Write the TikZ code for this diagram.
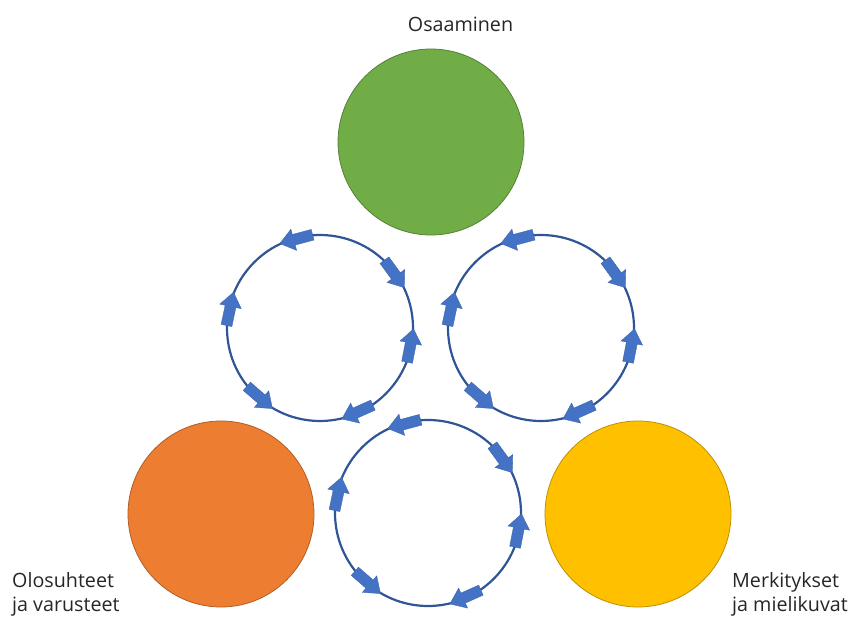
\documentclass[tikz,border=0pt]{standalone}
\usepackage{fontspec}
\setmainfont{Open Sans}
\usetikzlibrary{calc}
\definecolor{ringblue}{HTML}{2F5597}
\definecolor{arrowblue}{HTML}{4472C4}
\definecolor{greenfill}{HTML}{70AD47}
\definecolor{greenline}{HTML}{507E32}
\definecolor{orangefill}{HTML}{ED7D31}
\definecolor{orangeline}{HTML}{AE5A21}
\definecolor{yellowfill}{HTML}{FFC000}
\definecolor{yellowline}{HTML}{BC8C00}
\tikzset{
  bigdot/.style={circle, minimum size=186pt, inner sep=0pt, line width=0.75pt},
  ring/.style={circle, minimum size=186pt, inner sep=0pt, draw=ringblue, line width=2.2pt},
  lbl/.style={inner sep=0pt, font=\fontsize{19.7}{24}\selectfont, text=black!85},
  blockarrow/.pic={\fill[arrowblue, draw=arrowblue!85!black, line width=0.3pt]
    (-17,-5.5) -- (2.5,-5.5) -- (2.5,-11) -- (17,0) -- (2.5,11) -- (2.5,5.5) -- (-17,5.5) -- cycle;}
}
\begin{document}
\begin{tikzpicture}[x=1pt,y=1pt]
\useasboundingbox (0,0) rectangle (854,616);
% big circles
\node[bigdot, fill=greenfill, draw=greenline] (osa) at (431,474) {};
\node[bigdot, fill=orangefill, draw=orangeline] (olo) at (221,102) {};
\node[bigdot, fill=yellowfill, draw=yellowline] (mer) at (638,102) {};
% rings
\node[ring] (ringA) at (320,288) {};
\node[ring] (ringB) at (541,288) {};
\node[ring] (ringC) at (428,103) {};
\foreach \r in {ringA,ringB,ringC}{
  \foreach \a/\d in {105/90, 36/-90, -11/90, 168/-90, 229/90, 294/-90}{
    \path ($(\r.center)+(\a:92)$) pic[rotate=\a+\d] {blockarrow};
  }
}
% labels
\node[lbl, anchor=base] (tosa) at (460.5,584) {Osaaminen};
\node[lbl, anchor=base west] (tolo1) at (12,29) {Olosuhteet};
\node[lbl, anchor=base west] (tolo2) at (12,5) {ja varusteet};
\node[lbl, anchor=base west] (tmer1) at (732,29) {Merkitykset};
\node[lbl, anchor=base west] (tmer2) at (732,5) {ja mielikuvat};
\end{tikzpicture}
\end{document}
